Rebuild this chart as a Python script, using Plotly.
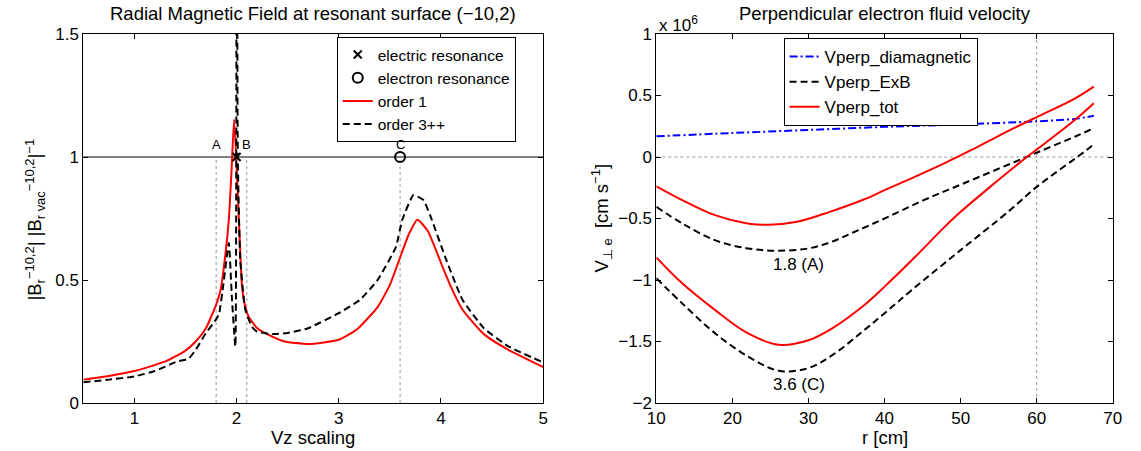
import plotly.graph_objects as go

# ---------------- Left panel data ----------------
vz_order1 = [0.5, 0.75, 1.0, 1.15, 1.32, 1.49, 1.6, 1.7, 1.8, 1.844, 1.892, 1.924, 1.95,
             1.976, 2.027, 2.053, 2.08, 2.117, 2.2, 2.3, 2.47, 2.7, 3.0, 3.18, 3.38, 3.5,
             3.59, 3.69, 3.77, 3.87, 4.0, 4.1, 4.21, 4.42, 4.66, 5.0]
b_order1 = [0.095, 0.11, 0.13, 0.148, 0.172, 0.21, 0.25, 0.304, 0.40, 0.46, 0.61, 0.745, 0.94,
            1.153, 0.70, 0.474, 0.40, 0.352, 0.305, 0.28, 0.25, 0.24, 0.257, 0.30, 0.39, 0.48,
            0.58, 0.69, 0.745, 0.70, 0.57, 0.47, 0.38, 0.28, 0.216, 0.146]

vz_order3 = [0.5, 0.75, 1.0, 1.2, 1.42, 1.53, 1.6, 1.7, 1.8, 1.83, 1.87, 1.924, 1.955, 1.988,
             2.0, 2.012, 2.036, 2.085, 2.15, 2.2, 2.35, 2.5, 2.7, 3.0, 3.21, 3.38, 3.56, 3.62,
             3.73, 3.83, 3.9, 4.04, 4.21, 4.42, 4.66, 5.0]
b_order3 = [0.084, 0.095, 0.108, 0.13, 0.169, 0.18, 0.216, 0.284, 0.34, 0.365, 0.48, 0.65, 0.42,
            0.23, 3.0, 1.0, 0.58, 0.38, 0.31, 0.29, 0.28, 0.285, 0.304, 0.365, 0.42, 0.50,
            0.635, 0.743, 0.845, 0.824, 0.757, 0.595, 0.42, 0.304, 0.23, 0.165]

electric_res_vz = [2.0]
electric_res_b = [1.0]
electron_res_vz = [3.6]
electron_res_b = [1.0]

case_labels = ["A", "B", "C"]
case_vz = [1.8, 2.1, 3.6]

left_xticks = [1, 2, 3, 4, 5]
left_yticks = [0, 0.5, 1, 1.5]

# ---------------- Right panel data (units of 1e6 cm/s) ----------------
r_dia = [10, 20, 30, 40, 50, 60, 65, 67.5]
v_dia = [0.168, 0.195, 0.22, 0.245, 0.265, 0.29, 0.31, 0.336]

r_A = [10, 13.4, 17.7, 22, 24.8, 28.5, 32.8, 37.1, 40, 43.6, 47.9, 51.3, 55, 60, 65, 67.5]
v_tot_A = [-0.238, -0.35, -0.473, -0.54, -0.551, -0.527, -0.446, -0.35, -0.27, -0.172,
           -0.05, 0.053, 0.172, 0.325, 0.475, 0.572]
r_A_exb = [10, 13.4, 17.7, 22, 25.9, 30, 33, 36, 40, 45, 50, 55, 60, 65, 67.5]
v_exb_A = [-0.405, -0.54, -0.676, -0.743, -0.762, -0.743, -0.69, -0.61, -0.50, -0.355,
           -0.225, -0.095, 0.035, 0.165, 0.234]

r_C = [10, 13.4, 17.7, 22, 26.1, 30, 33.2, 37.1, 40, 43.6, 47.9, 50, 54.4, 58.7, 60.2, 65, 67.5]
v_tot_C = [-0.816, -1.027, -1.243, -1.432, -1.527, -1.49, -1.39, -1.216, -1.054, -0.838,
           -0.568, -0.446, -0.216, 0.0, 0.07, 0.30, 0.437]
r_C_exb = [10, 13.4, 17.7, 22, 26.1, 30, 33.2, 37.1, 40, 43.6, 50, 56.5, 60, 66.5, 67.5]
v_exb_C = [-0.986, -1.19, -1.432, -1.62, -1.738, -1.716, -1.608, -1.419, -1.27, -1.08,
           -0.757, -0.432, -0.243, 0.054, 0.105]

curve_labels = ["1.8 (A)", "3.6 (C)"]
curve_label_r = [28.7, 28.7]
curve_label_v = [-0.878, -1.85]

# ---------------- Layout geometry ----------------
W, H = 1141, 451
MT, MB = 34, 48
L1, R1 = 75.5, 542.7
L2, R2 = 657.7, 1121.5
PLOT_H = H - MT - MB

FONT = "Liberation Sans, Arial, Helvetica, sans-serif"
TICK_SIZE = 17
LAB_SIZE = 18.5

RED = "#ff0000"
DASH = "7px,4px"
DASHDOT = "8px,3px,2px,3px"

fig = go.Figure()

# Left panel traces
fig.add_trace(go.Scatter(x=vz_order1, y=b_order1, mode="lines", name="order 1",
                         line=dict(color=RED, width=2, shape="spline", smoothing=0.5),
                         xaxis="x", yaxis="y", legend="legend", legendrank=3))
fig.add_trace(go.Scatter(x=vz_order3, y=b_order3, mode="lines", name="order 3++",
                         line=dict(color="black", width=2, dash=DASH, shape="spline",
                                   smoothing=0.4),
                         xaxis="x", yaxis="y", legend="legend", legendrank=4))
fig.add_trace(go.Scatter(x=electric_res_vz, y=electric_res_b, mode="markers",
                         name="electric resonance",
                         marker=dict(symbol="x-thin", size=8, color="black",
                                     line=dict(width=2, color="black")),
                         xaxis="x", yaxis="y", legend="legend", legendrank=1))
fig.add_trace(go.Scatter(x=electron_res_vz, y=electron_res_b, mode="markers",
                         name="electron resonance",
                         marker=dict(symbol="circle-open", size=10, color="black",
                                     line=dict(width=2, color="black")),
                         xaxis="x", yaxis="y", legend="legend", legendrank=2))

# Right panel traces
fig.add_trace(go.Scatter(x=r_dia, y=v_dia, mode="lines", name="Vperp_diamagnetic",
                         line=dict(color="#0000ff", width=2, dash=DASHDOT, shape="spline"),
                         xaxis="x2", yaxis="y2", legend="legend2", legendrank=1))
fig.add_trace(go.Scatter(x=r_A_exb, y=v_exb_A, mode="lines", name="Vperp_ExB",
                         line=dict(color="black", width=2, dash=DASH, shape="spline"),
                         xaxis="x2", yaxis="y2", legend="legend2", legendrank=2))
fig.add_trace(go.Scatter(x=r_A, y=v_tot_A, mode="lines", name="Vperp_tot",
                         line=dict(color=RED, width=2, shape="spline"),
                         xaxis="x2", yaxis="y2", legend="legend2", legendrank=3))
fig.add_trace(go.Scatter(x=r_C_exb, y=v_exb_C, mode="lines", name="Vperp_ExB",
                         line=dict(color="black", width=2, dash=DASH, shape="spline"),
                         xaxis="x2", yaxis="y2", showlegend=False))
fig.add_trace(go.Scatter(x=r_C, y=v_tot_C, mode="lines", name="Vperp_tot",
                         line=dict(color=RED, width=2, shape="spline"),
                         xaxis="x2", yaxis="y2", showlegend=False))

shapes = []
shapes.append(dict(type="line", xref="x", yref="y", x0=0.5, x1=5, y0=1, y1=1,
                   line=dict(color="black", width=1), layer="below"))
for xv in case_vz:
    shapes.append(dict(type="line", xref="x", yref="y", x0=xv, x1=xv, y0=0, y1=1,
                       line=dict(color="#999999", width=1, dash="dot"), layer="below"))
shapes.append(dict(type="line", xref="x2", yref="y2", x0=10, x1=70, y0=0, y1=0,
                   line=dict(color="#999999", width=1, dash="dot"), layer="below"))
shapes.append(dict(type="line", xref="x2", yref="y2", x0=60, x1=60, y0=-2, y1=1,
                   line=dict(color="#999999", width=1, dash="dot"), layer="below"))

annotations = []
for lab, xv in zip(case_labels, case_vz):
    annotations.append(dict(x=xv, y=1.05, xref="x", yref="y", text=lab, showarrow=False,
                            font=dict(size=13, color="black"), xanchor="center",
                            yanchor="middle"))
for lab, rv, vv in zip(curve_labels, curve_label_r, curve_label_v):
    annotations.append(dict(x=rv, y=vv, xref="x2", yref="y2", text=lab, showarrow=False,
                            font=dict(size=TICK_SIZE, color="black"), xanchor="center",
                            yanchor="middle"))


def py(px):
    return (H - MB - px) / PLOT_H


annotations.append(dict(x=(L1 + R1) / 2 / W, y=py(14), xref="paper", yref="paper",
                        text="Radial Magnetic Field at resonant surface (−10,2)",
                        showarrow=False, font=dict(size=LAB_SIZE), xanchor="center",
                        yanchor="middle"))
annotations.append(dict(x=(L2 + R2) / 2 / W, y=py(14), xref="paper", yref="paper",
                        text="Perpendicular electron fluid velocity",
                        showarrow=False, font=dict(size=LAB_SIZE), xanchor="center",
                        yanchor="middle"))
annotations.append(dict(x=(L1 + R1) / 2 / W, y=py(437), xref="paper", yref="paper",
                        text="Vz scaling", showarrow=False, font=dict(size=LAB_SIZE),
                        xanchor="center", yanchor="middle"))
annotations.append(dict(x=(L2 + R2) / 2 / W, y=py(437), xref="paper", yref="paper",
                        text="r [cm]", showarrow=False, font=dict(size=LAB_SIZE),
                        xanchor="center", yanchor="middle"))
annotations.append(dict(x=26 / W, y=py(220), xref="paper", yref="paper",
                        text="|B<sub>r</sub><sup>−10,2</sup>| |B<sub>r vac</sub><sup>−10,2</sup>|<sup>−1</sup>",
                        showarrow=False, font=dict(size=LAB_SIZE), textangle=-90,
                        xanchor="center", yanchor="middle"))
annotations.append(dict(x=602 / W, y=py(218), xref="paper", yref="paper",
                        text="V<sub>⊥ e</sub>  [cm s<sup>−1</sup>]",
                        showarrow=False, font=dict(size=LAB_SIZE), textangle=-90,
                        xanchor="center", yanchor="middle"))
annotations.append(dict(x=658 / W, y=py(24), xref="paper", yref="paper",
                        text="x 10<sup>6</sup>", showarrow=False,
                        font=dict(size=TICK_SIZE), xanchor="left", yanchor="middle"))

axis_common = dict(showline=True, linecolor="black", linewidth=1, mirror="ticks",
                   ticks="inside", ticklen=5, tickcolor="black", tickwidth=1,
                   showgrid=False, zeroline=False,
                   tickfont=dict(size=TICK_SIZE, color="black"))

fig.update_layout(
    width=W, height=H,
    margin=dict(l=0, r=0, t=MT, b=MB, pad=0),
    paper_bgcolor="white", plot_bgcolor="white",
    font=dict(family=FONT, color="black", size=TICK_SIZE),
    xaxis=dict(domain=[L1 / W, R1 / W], range=[0.5, 5], tickvals=left_xticks,
               anchor="y", **axis_common),
    yaxis=dict(domain=[0, 1], range=[0, 1.5], tickvals=left_yticks,
               ticktext=["0", "0.5", "1", "1.5"], anchor="x", **axis_common),
    xaxis2=dict(domain=[L2 / W, R2 / W], range=[10, 70], dtick=10, tick0=10,
                anchor="y2", **axis_common),
    yaxis2=dict(domain=[0, 1], range=[-2, 1], dtick=0.5, tick0=0,
                anchor="x2", **axis_common),
    legend=dict(x=333 / W, y=py(37), xanchor="left", yanchor="top",
                bgcolor="white", bordercolor="black", borderwidth=1,
                font=dict(size=15.5), itemwidth=30, tracegroupgap=0),
    legend2=dict(x=787 / W, y=py(38), xanchor="left", yanchor="top",
                 bgcolor="white", bordercolor="black", borderwidth=1,
                 font=dict(size=TICK_SIZE), itemwidth=30, tracegroupgap=0),
    shapes=shapes,
    annotations=annotations,
    showlegend=True,
)

fig.write_html("out.html", config={"displayModeBar": False},
               post_script="document.body.style.margin='0px';document.body.style.overflow='hidden';")
